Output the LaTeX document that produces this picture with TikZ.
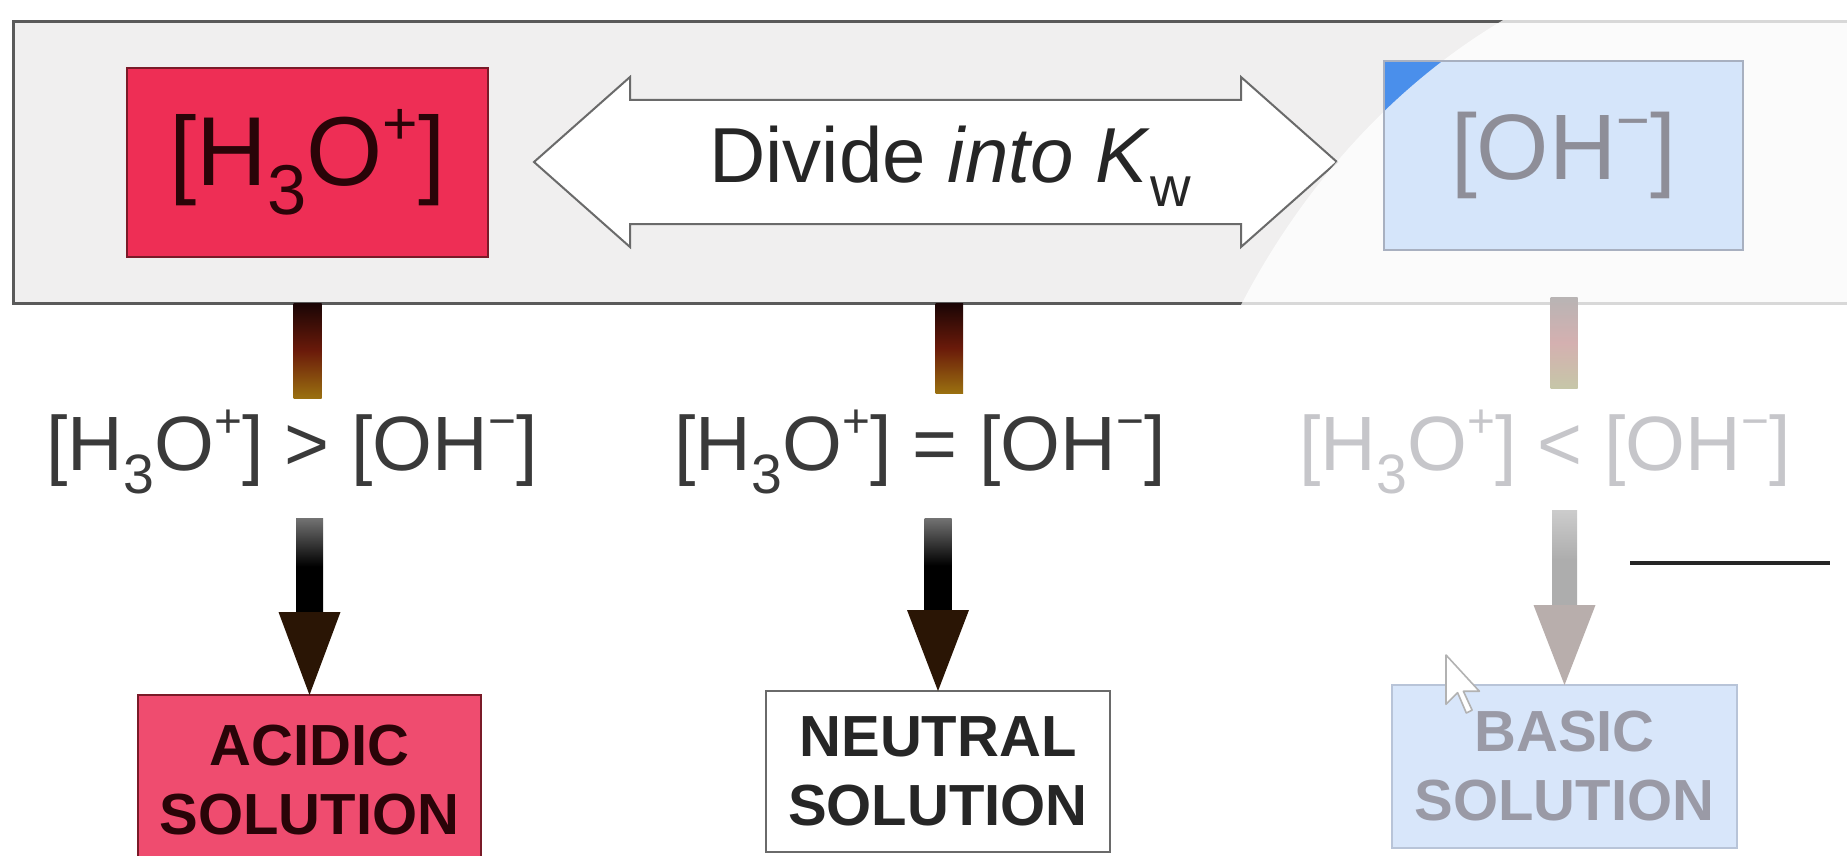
\documentclass[tikz,border=0pt]{standalone}
\usepackage{fontspec}
\setmainfont{Liberation Sans}
\usetikzlibrary{calc}
\definecolor{bandfill}{HTML}{F0EFEF}
\definecolor{bandline}{HTML}{5A5A5A}
\definecolor{acidfill}{HTML}{EE2E55}
\definecolor{acidline}{HTML}{7A1A28}
\definecolor{acidtext}{HTML}{2A0408}
\definecolor{acid2fill}{HTML}{EF4C6F}
\definecolor{arrowline}{HTML}{6A6A6A}
\definecolor{ohblue}{RGB}{74,143,235}
\definecolor{ohline}{HTML}{A8B0C0}
\definecolor{ohtext}{HTML}{8E8E98}
\definecolor{rowtext}{HTML}{3A3A3A}
\definecolor{fadetext}{HTML}{C6C6CA}
\definecolor{stemtop}{HTML}{1A0505}
\definecolor{stemmid}{HTML}{6A1A0A}
\definecolor{stembot}{HTML}{9A7010}
\definecolor{headbrown}{HTML}{2A1505}
\definecolor{fstemtop}{HTML}{B8B4B4}
\definecolor{fstemmid}{HTML}{D4B0B0}
\definecolor{fstembot}{HTML}{C6C6A8}
\definecolor{fhead}{HTML}{B8AEAC}
\definecolor{basicfill}{HTML}{D8E6FA}
\definecolor{basicline}{HTML}{B8C4D8}
\definecolor{basictext}{HTML}{9A9AA6}
\newcommand\mysub[1]{\raisebox{-0.3em}{\scalebox{0.72}{#1}}}
\newcommand\mysup[1]{\raisebox{0.42em}{\scalebox{0.62}{#1}}}
\tikzset{
  box/.style={inner sep=0pt, outer sep=0pt, line width=1.2pt},
  bigtxt/.style={font=\fontsize{49}{50}\selectfont},
  rowtxt/.style={font=\fontsize{38.5}{40}\selectfont, inner sep=0pt, anchor=base},
  soltxt/.style={font=\fontsize{29}{34.5}\selectfont\bfseries, align=center},
  arrowshape/.style={draw=arrowline, fill=white, line width=1pt, line join=miter},
  darkstem/.style={top color=stemtop, bottom color=stembot, middle color=stemmid},
  fadestem/.style={top color=fstemtop, bottom color=fstembot, middle color=fstemmid},
  darkshaft/.style={top color=black!55, bottom color=black, middle color=black},
  fadeshaft/.style={top color=black!20, bottom color=black!32, middle color=black!32},
}
\begin{document}
\begin{tikzpicture}[x=0.5pt,y=-0.5pt]
\useasboundingbox (0,0) rectangle (1847,856);
\fill[white] (0,0) rectangle (1847,856);

% top band
\node[box, draw=bandline, fill=bandfill, line width=1.5pt,
      minimum width=921pt, minimum height=140.5pt] (band) at (934,162.5) {};

% [H3O+] box
\node[box, draw=acidline, fill=acidfill, text=acidtext, bigtxt,
      minimum width=180.5pt, minimum height=94.5pt] (h3o) at (307.5,162.5)
      {[H\mysub{3}O\mysup{+}]};

% double arrow
\draw[arrowshape] (534,162) -- (630,77) -- (630,100) -- (1241,100) -- (1241,77)
   -- (1337,162) -- (1241,247) -- (1241,224) -- (630,224) -- (630,247) -- cycle;
\node[inner sep=0pt, anchor=base, font=\fontsize{39}{40}\selectfont, text=black!85] (kw) at (950,183)
   {Divide \textit{into K}\mysub{w}};

% [OH-] box (underlying colour)
\node[box, fill=ohblue, minimum width=179.5pt, minimum height=94.5pt] (oh) at (1563.5,155.5) {};

% white fade overlay
\fill[white, opacity=0.77] (1240,307) .. controls (1300,190) and (1400,70) .. (1540,0)
   -- (1847,0) -- (1847,307) -- cycle;

\draw[ohline, line width=1.2pt] (oh.north west) rectangle (oh.south east);
\node[bigtxt, text=ohtext, font=\fontsize{46.5}{48}\selectfont] (ohlabel) at (oh.center) {[OH\mysup{−}]};

% middle row texts
\node[rowtxt, text=rowtext] (rowL) at (292,470) {[H\mysub{3}O\mysup{+}] > [OH\mysup{−}]};
\node[rowtxt, text=rowtext] (rowM) at (920,470) {[H\mysub{3}O\mysup{+}] = [OH\mysup{−}]};
\node[rowtxt, text=fadetext] (rowR) at (1545,470) {[H\mysub{3}O\mysup{+}] < [OH\mysup{−}]};

% bottom boxes
\node[box, draw=acidline, fill=acid2fill, text=acidtext, soltxt,
      minimum width=171.5pt, minimum height=85pt, anchor=north] (acid) at (309.5,695)
      {ACIDIC\\SOLUTION};
\node[box, draw=arrowline, fill=white, text=black!85, soltxt,
      minimum width=172pt, minimum height=80.5pt, anchor=north] (neutral) at (938,691)
      {NEUTRAL\\SOLUTION};
\node[box, draw=basicline, fill=basicfill, text=basictext, soltxt,
      minimum width=172.5pt, minimum height=81.5pt, anchor=north] (basic) at (1564.5,685)
      {BASIC\\SOLUTION};

% stems below band
\shade[darkstem]
  ($(h3o.center |- band.south)+(-14,0)$) rectangle ($(h3o.center |- band.south)+(14,95)$);
\shade[darkstem]
  ($(kw.center |- band.south)+(-14.5,0)$) rectangle ($(kw.center |- band.south)+(13,90)$);
\shade[fadestem]
  ($(oh.center |- band.south)+(-13,-6)$) rectangle ($(oh.center |- band.south)+(14,85)$);

% lower arrows
\shade[darkshaft]
  ($(acid.north)+(-13.5,-177)$) rectangle ($(acid.north)+(13.5,-80)$);
\fill[headbrown] ($(acid.north)+(-31,-83)$) -- ($(acid.north)+(31,-83)$) -- (acid.north) -- cycle;

\shade[darkshaft]
  ($(neutral.north)+(-13.5,-173)$) rectangle ($(neutral.north)+(13.5,-78)$);
\fill[headbrown] ($(neutral.north)+(-31,-81)$) -- ($(neutral.north)+(31,-81)$) -- (neutral.north) -- cycle;

\shade[fadeshaft]
  ($(basic.north)+(-12.5,-175)$) rectangle ($(basic.north)+(12.5,-77)$);
\fill[fhead] ($(basic.north)+(-31,-80)$) -- ($(basic.north)+(31,-80)$) -- (basic.north) -- cycle;

% black line and cursor
\coordinate (lineL) at (1630,563);
\coordinate (lineR) at (1830,563);
\draw[black!85, line width=2pt] (lineL) -- (lineR);
\begin{scope}[shift={(1446,655)}, x=1.45pt, y=-1.45pt]
\draw[fill=white, draw=black!30, line width=0.8pt, line join=round]
  (0,0) -- (0,17) -- (4,13) -- (7,20) -- (9,19) -- (6,12.5) -- (11.5,12.5) -- cycle;
\end{scope}
\end{tikzpicture}
\end{document}
